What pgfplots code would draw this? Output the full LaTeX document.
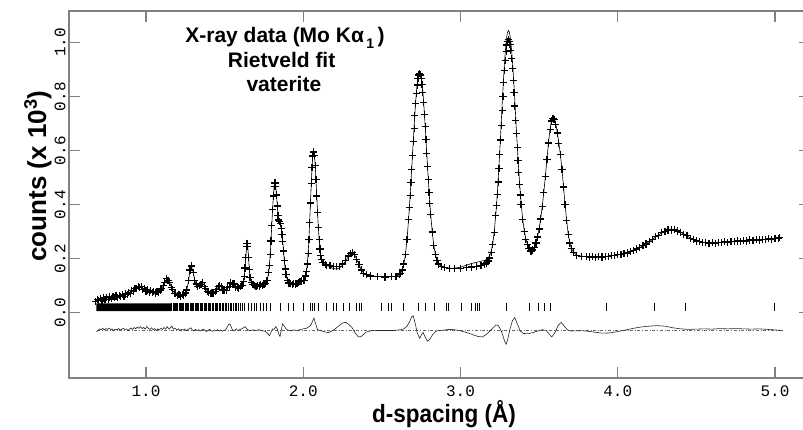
\documentclass[border=0pt]{standalone}
\usepackage{fontspec}
\setmainfont{Liberation Sans}
\newfontfamily\monofont{Liberation Mono}
\usepackage{pgfplots}
\usepackage{pgfplotstable}
\pgfplotsset{compat=1.18}

% observed counts and Rietveld calc (x 10^3) against d-spacing
\pgfplotstableread{
d obs calc
0.680 0.040 0.044
0.690 0.049 0.046
0.700 0.044 0.047
0.710 0.052 0.048
0.720 0.046 0.050
0.730 0.054 0.051
0.740 0.049 0.052
0.750 0.056 0.053
0.760 0.050 0.054
0.770 0.058 0.055
0.780 0.053 0.056
0.790 0.060 0.057
0.800 0.055 0.058
0.810 0.062 0.059
0.820 0.057 0.060
0.830 0.063 0.061
0.840 0.059 0.062
0.850 0.066 0.063
0.860 0.061 0.065
0.870 0.069 0.067
0.880 0.066 0.070
0.890 0.075 0.073
0.900 0.072 0.077
0.910 0.082 0.080
0.920 0.080 0.084
0.930 0.089 0.088
0.940 0.088 0.092
0.950 0.097 0.095
0.960 0.094 0.096
0.970 0.096 0.093
0.980 0.087 0.089
0.990 0.089 0.085
1.000 0.080 0.082
1.010 0.084 0.080
1.020 0.076 0.079
1.030 0.081 0.078
1.040 0.074 0.077
1.050 0.079 0.076
1.060 0.073 0.076
1.070 0.078 0.077
1.080 0.076 0.079
1.090 0.084 0.083
1.100 0.088 0.090
1.110 0.101 0.100
1.120 0.112 0.112
1.130 0.126 0.122
1.140 0.120 0.124
1.150 0.111 0.112
1.160 0.094 0.096
1.170 0.085 0.082
1.180 0.072 0.074
1.190 0.071 0.069
1.200 0.064 0.066
1.210 0.068 0.065
1.220 0.062 0.065
1.230 0.067 0.066
1.240 0.065 0.068
1.250 0.073 0.072
1.260 0.084 0.084
1.270 0.118 0.115
1.280 0.158 0.155
1.290 0.173 0.170
1.300 0.148 0.150
1.310 0.119 0.120
1.320 0.106 0.104
1.330 0.097 0.099
1.340 0.101 0.100
1.350 0.104 0.105
1.360 0.112 0.109
1.370 0.098 0.101
1.380 0.089 0.089
1.390 0.078 0.080
1.400 0.076 0.075
1.410 0.070 0.072
1.420 0.073 0.071
1.430 0.070 0.073
1.440 0.079 0.078
1.450 0.086 0.087
1.460 0.098 0.095
1.470 0.099 0.099
1.480 0.096 0.095
1.490 0.084 0.087
1.500 0.084 0.083
1.510 0.082 0.084
1.520 0.092 0.090
1.530 0.098 0.099
1.540 0.110 0.107
1.550 0.108 0.110
1.560 0.106 0.104
1.570 0.095 0.097
1.580 0.094 0.093
1.590 0.091 0.093
1.600 0.097 0.096
1.610 0.100 0.101
1.620 0.115 0.115
1.625 0.135 0.135
1.630 0.165 0.165
1.635 0.205 0.205
1.640 0.245 0.245
1.643 0.257 0.258
1.647 0.245 0.246
1.652 0.205 0.205
1.657 0.160 0.160
1.662 0.130 0.130
1.670 0.112 0.110
1.680 0.103 0.104
1.690 0.102 0.101
1.700 0.098 0.100
1.710 0.101 0.100
1.720 0.099 0.100
1.730 0.103 0.101
1.740 0.101 0.102
1.750 0.106 0.104
1.760 0.108 0.108
1.770 0.118 0.118
1.780 0.148 0.148
1.785 0.176 0.176
1.790 0.216 0.216
1.795 0.265 0.265
1.800 0.323 0.323
1.805 0.381 0.381
1.810 0.432 0.432
1.815 0.468 0.468
1.820 0.480 0.478
1.825 0.468 0.467
1.830 0.436 0.436
1.835 0.395 0.397
1.840 0.360 0.362
1.845 0.343 0.344
1.850 0.338 0.338
1.855 0.330 0.328
1.860 0.312 0.312
1.865 0.290 0.290
1.870 0.262 0.262
1.875 0.228 0.228
1.880 0.192 0.192
1.885 0.162 0.162
1.890 0.140 0.140
1.900 0.120 0.120
1.910 0.110 0.110
1.920 0.108 0.107
1.930 0.104 0.106
1.940 0.107 0.106
1.950 0.106 0.107
1.960 0.109 0.109
1.970 0.112 0.112
1.980 0.114 0.115
1.990 0.117 0.118
2.000 0.119 0.119
2.006 0.120 0.121
2.016 0.136 0.136
2.021 0.153 0.153
2.026 0.180 0.180
2.031 0.219 0.219
2.036 0.271 0.271
2.041 0.335 0.335
2.046 0.406 0.406
2.051 0.477 0.477
2.056 0.538 0.538
2.061 0.580 0.580
2.066 0.595 0.596
2.071 0.582 0.583
2.076 0.546 0.546
2.081 0.493 0.493
2.086 0.432 0.432
2.091 0.370 0.370
2.096 0.315 0.315
2.101 0.270 0.270
2.106 0.236 0.236
2.111 0.213 0.213
2.116 0.198 0.198
2.126 0.185 0.186
2.140 0.178 0.178
2.150 0.176 0.174
2.170 0.174 0.170
2.190 0.171 0.163
2.210 0.170 0.162
2.230 0.172 0.165
2.250 0.180 0.176
2.270 0.193 0.192
2.290 0.210 0.210
2.300 0.218 0.218
2.313 0.222 0.223
2.325 0.216 0.217
2.340 0.198 0.198
2.355 0.177 0.177
2.370 0.158 0.158
2.385 0.146 0.146
2.400 0.140 0.140
2.430 0.136 0.136
2.470 0.133 0.134
2.520 0.132 0.132
2.560 0.133 0.133
2.590 0.135 0.135
2.610 0.140 0.140
2.620 0.146 0.146
2.630 0.158 0.158
2.640 0.180 0.180
2.650 0.215 0.216
2.660 0.270 0.272
2.670 0.345 0.347
2.675 0.390 0.392
2.680 0.434 0.437
2.685 0.481 0.484
2.690 0.531 0.535
2.695 0.582 0.587
2.700 0.633 0.638
2.705 0.683 0.689
2.710 0.730 0.737
2.715 0.774 0.781
2.720 0.812 0.820
2.725 0.843 0.851
2.730 0.866 0.875
2.735 0.880 0.890
2.740 0.885 0.896
2.745 0.880 0.891
2.750 0.866 0.876
2.755 0.844 0.853
2.760 0.814 0.823
2.765 0.777 0.785
2.770 0.735 0.742
2.775 0.688 0.694
2.780 0.640 0.645
2.785 0.590 0.595
2.790 0.540 0.544
2.795 0.492 0.495
2.800 0.446 0.449
2.805 0.403 0.405
2.810 0.364 0.366
2.820 0.299 0.300
2.830 0.249 0.250
2.840 0.215 0.216
2.850 0.192 0.193
2.860 0.180 0.180
2.880 0.172 0.172
2.900 0.167 0.167
2.930 0.164 0.165
2.960 0.163 0.165
3.000 0.164 0.168
3.040 0.166 0.176
3.070 0.169 0.182
3.100 0.172 0.186
3.130 0.176 0.190
3.155 0.180 0.194
3.165 0.184 0.197
3.175 0.191 0.203
3.185 0.202 0.210
3.195 0.222 0.226
3.205 0.251 0.255
3.215 0.297 0.302
3.225 0.359 0.367
3.230 0.396 0.406
3.235 0.438 0.449
3.240 0.484 0.497
3.245 0.533 0.548
3.250 0.585 0.602
3.255 0.639 0.658
3.260 0.694 0.716
3.265 0.748 0.772
3.270 0.801 0.828
3.275 0.851 0.879
3.280 0.896 0.926
3.285 0.935 0.967
3.290 0.967 1.000
3.295 0.991 1.025
3.300 1.005 1.040
3.305 1.010 1.045
3.310 1.005 1.040
3.315 0.992 1.026
3.320 0.970 1.003
3.325 0.940 0.972
3.330 0.904 0.934
3.335 0.861 0.890
3.340 0.815 0.841
3.345 0.765 0.789
3.350 0.713 0.736
3.355 0.663 0.680
3.360 0.613 0.629
3.365 0.562 0.577
3.370 0.518 0.531
3.375 0.475 0.487
3.380 0.436 0.446
3.385 0.401 0.409
3.395 0.344 0.349
3.405 0.301 0.305
3.415 0.272 0.274
3.425 0.252 0.254
3.435 0.238 0.240
3.445 0.228 0.230
3.450 0.226 0.228
3.460 0.232 0.233
3.470 0.242 0.243
3.480 0.258 0.259
3.490 0.280 0.281
3.500 0.310 0.311
3.510 0.347 0.348
3.520 0.392 0.394
3.530 0.445 0.447
3.540 0.505 0.507
3.550 0.567 0.570
3.560 0.628 0.632
3.570 0.678 0.683
3.580 0.710 0.715
3.588 0.720 0.726
3.595 0.716 0.722
3.605 0.697 0.702
3.615 0.665 0.669
3.625 0.625 0.628
3.635 0.585 0.587
3.645 0.530 0.532
3.655 0.465 0.466
3.665 0.400 0.401
3.675 0.340 0.341
3.685 0.290 0.290
3.695 0.258 0.258
3.705 0.238 0.238
3.720 0.222 0.222
3.740 0.213 0.213
3.770 0.209 0.209
3.800 0.207 0.207
3.820 0.206 0.206
3.840 0.208 0.206
3.860 0.205 0.206
3.880 0.208 0.207
3.900 0.206 0.207
3.920 0.209 0.208
3.940 0.208 0.209
3.960 0.212 0.211
3.980 0.211 0.212
4.000 0.215 0.214
4.020 0.215 0.216
4.040 0.220 0.219
4.060 0.221 0.222
4.080 0.227 0.226
4.100 0.229 0.230
4.120 0.236 0.235
4.140 0.240 0.241
4.160 0.249 0.248
4.180 0.254 0.255
4.200 0.264 0.263
4.220 0.270 0.271
4.240 0.281 0.280
4.260 0.287 0.288
4.280 0.296 0.295
4.300 0.300 0.301
4.320 0.306 0.305
4.340 0.306 0.307
4.360 0.307 0.306
4.380 0.302 0.303
4.400 0.298 0.298
4.420 0.289 0.291
4.440 0.285 0.284
4.460 0.276 0.277
4.480 0.272 0.271
4.500 0.265 0.267
4.520 0.264 0.263
4.540 0.259 0.261
4.560 0.261 0.259
4.580 0.257 0.258
4.600 0.259 0.258
4.620 0.257 0.259
4.640 0.261 0.259
4.660 0.259 0.260
4.680 0.262 0.261
4.700 0.260 0.261
4.720 0.263 0.262
4.740 0.262 0.263
4.760 0.265 0.264
4.780 0.264 0.265
4.800 0.267 0.266
4.820 0.265 0.267
4.840 0.269 0.268
4.860 0.267 0.268
4.880 0.271 0.269
4.900 0.269 0.270
4.920 0.272 0.271
4.940 0.271 0.272
4.960 0.274 0.273
4.980 0.272 0.273
5.000 0.276 0.274
5.020 0.274 0.275
5.030 0.277 0.275
}\obs

% difference curve (obs - calc), shifted down
\pgfplotstableread{
d diff
0.685 -0.072
0.695 -0.066
0.705 -0.060
0.715 -0.063
0.725 -0.058
0.735 -0.064
0.745 -0.059
0.755 -0.062
0.765 -0.057
0.775 -0.063
0.785 -0.060
0.795 -0.066
0.805 -0.061
0.815 -0.064
0.825 -0.059
0.835 -0.065
0.845 -0.062
0.855 -0.058
0.865 -0.063
0.875 -0.060
0.885 -0.066
0.895 -0.061
0.905 -0.057
0.915 -0.062
0.925 -0.055
0.935 -0.060
0.945 -0.053
0.955 -0.058
0.965 -0.052
0.975 -0.059
0.985 -0.055
0.995 -0.061
1.005 -0.051
1.015 -0.058
1.025 -0.062
1.035 -0.056
1.045 -0.063
1.055 -0.059
1.065 -0.066
1.075 -0.060
1.085 -0.064
1.095 -0.058
1.105 -0.062
1.115 -0.055
1.125 -0.061
1.135 -0.052
1.145 -0.060
1.155 -0.056
1.165 -0.050
1.175 -0.061
1.185 -0.058
1.195 -0.064
1.205 -0.060
1.215 -0.066
1.225 -0.062
1.235 -0.065
1.245 -0.061
1.255 -0.067
1.265 -0.063
1.275 -0.060
1.285 -0.056
1.295 -0.064
1.305 -0.068
1.315 -0.062
1.325 -0.066
1.335 -0.063
1.345 -0.068
1.355 -0.064
1.365 -0.061
1.375 -0.066
1.385 -0.070
1.395 -0.065
1.405 -0.062
1.415 -0.067
1.425 -0.069
1.435 -0.064
1.445 -0.067
1.455 -0.063
1.465 -0.068
1.475 -0.065
1.485 -0.069
1.495 -0.066
1.505 -0.064
1.515 -0.055
1.525 -0.044
1.535 -0.042
1.545 -0.058
1.555 -0.068
1.565 -0.064
1.575 -0.060
1.585 -0.066
1.600 -0.062
1.615 -0.058
1.630 -0.052
1.645 -0.062
1.660 -0.067
1.680 -0.064
1.700 -0.066
1.720 -0.063
1.740 -0.067
1.760 -0.070
1.775 -0.078
1.785 -0.086
1.795 -0.072
1.805 -0.060
1.815 -0.062
1.825 -0.052
1.835 -0.060
1.845 -0.080
1.852 -0.088
1.860 -0.066
1.868 -0.042
1.878 -0.048
1.890 -0.060
1.905 -0.065
1.920 -0.067
1.940 -0.064
1.960 -0.066
1.980 -0.063
2.000 -0.060
2.020 -0.058
2.035 -0.053
2.050 -0.045
2.060 -0.030
2.068 -0.020
2.078 -0.040
2.090 -0.062
2.105 -0.066
2.130 -0.070
2.160 -0.074
2.190 -0.066
2.220 -0.052
2.250 -0.038
2.270 -0.036
2.290 -0.044
2.310 -0.055
2.330 -0.075
2.350 -0.089
2.365 -0.090
2.380 -0.082
2.400 -0.072
2.430 -0.067
2.470 -0.066
2.520 -0.066
2.570 -0.066
2.610 -0.064
2.640 -0.060
2.660 -0.050
2.675 -0.035
2.690 -0.015
2.700 -0.012
2.712 -0.040
2.725 -0.075
2.740 -0.095
2.752 -0.082
2.762 -0.073
2.775 -0.090
2.790 -0.106
2.805 -0.098
2.825 -0.080
2.845 -0.068
2.870 -0.066
2.900 -0.064
2.930 -0.062
2.960 -0.063
2.990 -0.066
3.030 -0.072
3.070 -0.080
3.110 -0.088
3.140 -0.090
3.170 -0.078
3.200 -0.060
3.225 -0.045
3.240 -0.048
3.260 -0.068
3.280 -0.105
3.290 -0.117
3.300 -0.100
3.315 -0.060
3.330 -0.030
3.345 -0.018
3.360 -0.040
3.380 -0.068
3.400 -0.077
3.430 -0.078
3.460 -0.074
3.490 -0.068
3.520 -0.063
3.545 -0.066
3.565 -0.080
3.580 -0.090
3.600 -0.075
3.620 -0.048
3.640 -0.036
3.660 -0.050
3.680 -0.064
3.700 -0.068
3.750 -0.067
3.800 -0.068
3.850 -0.072
3.900 -0.076
3.950 -0.075
4.000 -0.070
4.050 -0.064
4.100 -0.058
4.150 -0.053
4.200 -0.050
4.250 -0.048
4.300 -0.050
4.350 -0.056
4.400 -0.060
4.450 -0.062
4.500 -0.061
4.550 -0.060
4.600 -0.061
4.650 -0.059
4.700 -0.060
4.750 -0.059
4.800 -0.060
4.850 -0.061
4.900 -0.060
4.950 -0.062
5.000 -0.064
5.050 -0.066
}\diff

\begin{document}
\begin{tikzpicture}
\useasboundingbox (-69pt,-51pt) rectangle (734pt,378pt);
\begin{axis}[
    scale only axis,
    width=741pt, height=367pt,
    xmin=0.5105, xmax=5.2225,
    ymin=-0.242, ymax=1.117,
    axis line style={draw=black!50, line width=1.2pt},
    tick style={draw=black!50, line width=1.2pt},
    major tick length=11pt,
    tick align=inside,
    xtick={1,2,3,4,5},
    xticklabels={1.0,2.0,3.0,4.0,5.0},
    ytick={0,0.2,0.4,0.6,0.8,1.0},
    yticklabels={0.0,0.2,0.4,0.6,0.8,1.0},
    ticklabel style={font=\fontsize{16}{16}\selectfont\monofont},
    xticklabel style={yshift=-4pt},
    yticklabel style={rotate=90, anchor=south},
    xlabel={\scalebox{0.9}[1]{d-spacing (Å)}},
    ylabel={counts (x 10\textsuperscript{3})},
    every axis x label/.style={at={(axis description cs:0.506,0)}, anchor=base,
        yshift=-44pt, font=\fontsize{25}{25}\selectfont\bfseries},
    every axis y label/.style={at={(axis description cs:-0.031,0.55)}, anchor=base,
        rotate=90, font=\fontsize{26}{26}\selectfont\bfseries},
]
% observed data
\addplot[only marks, mark=+, mark size=3.6pt, black,
    mark options={line width=1.2pt}] table[x=d, y=obs] {\obs};
% calculated profile
\addplot[black, line width=0.6pt] table[x=d, y=calc] {\obs};
% difference and its zero line
\addplot[black!60, dash dot, line width=0.6pt] coordinates {(0.69,-0.066) (5.05,-0.066)};
\addplot[black!85, line width=0.6pt] table[x=d, y=diff] {\diff};
% reflection positions
\addplot[fill=black, draw=none] coordinates {(0.685,0.006) (1.16,0.006) (1.16,0.034) (0.685,0.034) (0.685,0.006)};
\addplot[only marks, mark=|, mark size=3.8pt, black, mark options={line width=0.9pt}] coordinates {
(1.165,0.02) (1.172,0.02) (1.180,0.02) (1.186,0.02) (1.195,0.02) (1.203,0.02) (1.210,0.02)
(1.218,0.02) (1.226,0.02) (1.232,0.02) (1.241,0.02) (1.249,0.02) (1.256,0.02) (1.265,0.02)
(1.271,0.02) (1.280,0.02) (1.288,0.02) (1.295,0.02) (1.305,0.02) (1.312,0.02) (1.320,0.02)
(1.329,0.02) (1.336,0.02) (1.345,0.02) (1.352,0.02) (1.362,0.02) (1.370,0.02) (1.378,0.02)
(1.386,0.02) (1.395,0.02) (1.404,0.02) (1.412,0.02) (1.421,0.02) (1.430,0.02) (1.440,0.02)
(1.448,0.02) (1.457,0.02) (1.466,0.02) (1.476,0.02) (1.485,0.02) (1.495,0.02) (1.505,0.02)
(1.514,0.02) (1.524,0.02) (1.535,0.02) (1.545,0.02) (1.556,0.02) (1.567,0.02) (1.578,0.02)
(1.588,0.02) (1.598,0.02) (1.615,0.02) (1.629,0.02) (1.650,0.02) (1.672,0.02) (1.687,0.02)
(1.704,0.02) (1.725,0.02) (1.746,0.02) (1.767,0.02) (1.793,0.02) (1.852,0.02) (1.905,0.02)
(1.936,0.02) (2.000,0.02) (2.043,0.02) (2.060,0.02) (2.074,0.02) (2.095,0.02) (2.149,0.02)
(2.191,0.02) (2.212,0.02) (2.254,0.02) (2.297,0.02) (2.339,0.02) (2.356,0.02) (2.371,0.02)
(2.498,0.02) (2.540,0.02) (2.562,0.02) (2.636,0.02) (2.731,0.02) (2.774,0.02) (2.837,0.02)
(2.912,0.02) (2.922,0.02) (3.007,0.02) (3.071,0.02) (3.092,0.02) (3.106,0.02) (3.123,0.02)
(3.293,0.02) (3.441,0.02) (3.494,0.02) (3.537,0.02) (3.575,0.02) (3.929,0.02) (4.236,0.02)
(4.431,0.02) (4.994,0.02)};
% annotation
\node[anchor=base, font=\fontsize{21}{21}\selectfont\bfseries] at (axis description cs:0.2915,0.914)
    {X-ray data (Mo Kα\raisebox{-0.55ex}{\fontsize{14}{14}\selectfont\,1}\,)};
\node[anchor=base, font=\fontsize{21}{21}\selectfont\bfseries] at (axis description cs:0.287,0.846)
    {Rietveld fit};
\node[anchor=base, font=\fontsize{21}{21}\selectfont\bfseries] at (axis description cs:0.290,0.782)
    {vaterite};
\end{axis}
\end{tikzpicture}
\end{document}
